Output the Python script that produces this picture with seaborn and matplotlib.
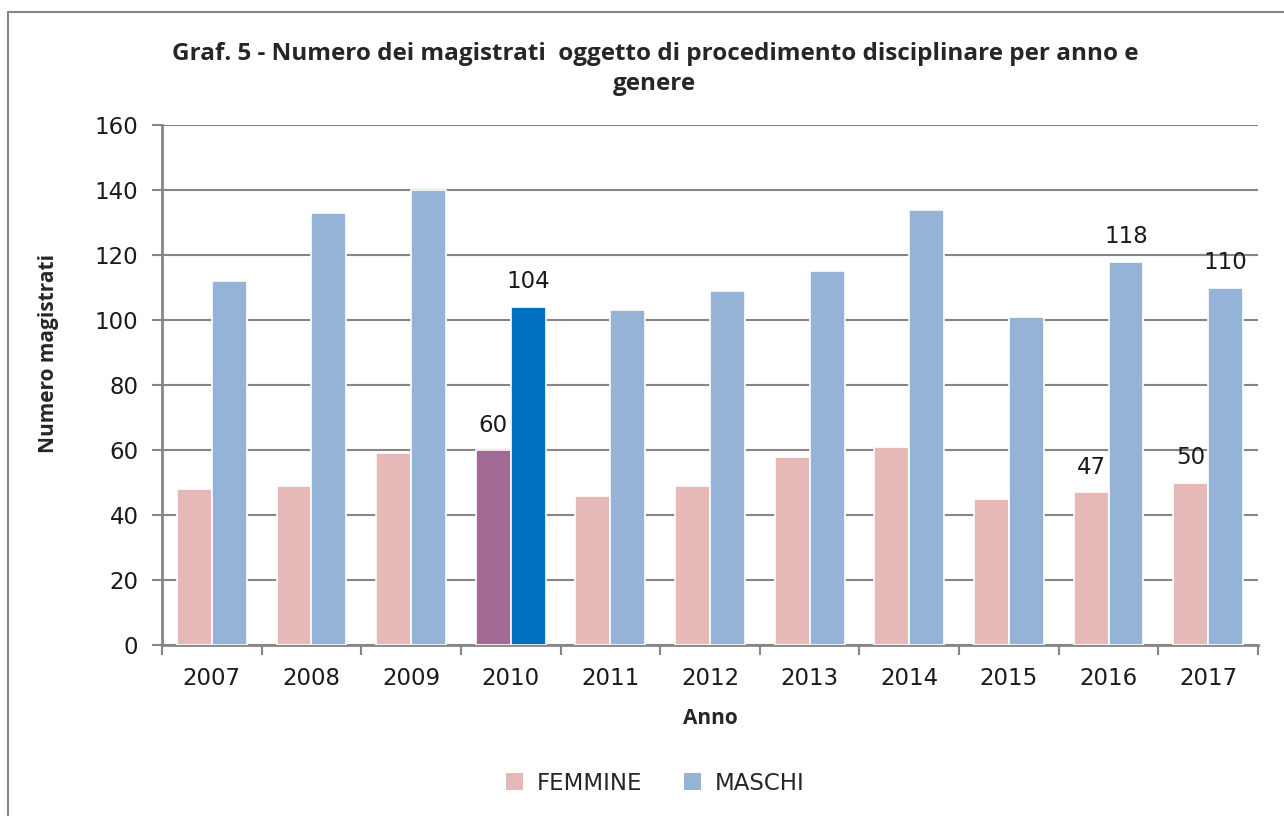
import pandas as pd
import seaborn as sns
import matplotlib.pyplot as plt
from matplotlib.lines import Line2D
from matplotlib.patches import Patch

# Data
anni = ['2007', '2008', '2009', '2010', '2011', '2012', '2013', '2014', '2015', '2016', '2017']
femmine = [48, 49, 59, 60, 46, 49, 58, 61, 45, 47, 50]
maschi = [112, 133, 140, 104, 103, 109, 115, 134, 101, 118, 110]
generi = ['FEMMINE', 'MASCHI']
anni_etichette = ['2010', '2016', '2017']
anno_evidenziato = '2010'

df = pd.DataFrame({'anno': anni * 2,
                   'genere': ['FEMMINE'] * len(anni) + ['MASCHI'] * len(anni),
                   'valore': femmine + maschi})

sns.set_style('white')
plt.rcParams['font.family'] = ['DejaVu Sans']

grigio = '#868686'
colori = {'FEMMINE': '#E6B9B8', 'MASCHI': '#95B3D7'}
colori_evid = {'FEMMINE': '#A06A95', 'MASCHI': '#0070C0'}

fig = plt.figure(figsize=(12.84, 8.16), dpi=100)
ax = fig.add_axes([162 / 1284, 1 - 645 / 816, (1258 - 162) / 1284, (645 - 125) / 816])

sns.barplot(data=df, x='anno', y='valore', hue='genere', hue_order=generi,
            palette=colori, saturation=1, width=0.7, edgecolor='white', linewidth=1.2,
            legend=False, ax=ax, zorder=3)

# highlight 2010 and put the labels
i_ev = anni.index(anno_evidenziato)
for cont, g in zip(ax.containers, generi):
    cont[i_ev].set_facecolor(colori_evid[g])
    for a in anni_etichette:
        p = cont[anni.index(a)]
        ax.annotate(f'{p.get_height():.0f}', (p.get_x() + p.get_width() / 2, p.get_height()),
                    xytext=(0, 25), textcoords='offset pixels', ha='center', va='center',
                    fontsize=16.5, color='#1a1a1a', zorder=4)

ax.set_xlim(-0.5, len(anni) - 0.5)
ax.set_ylim(0, 160)
ax.set_yticks(range(0, 161, 20))
ax.yaxis.grid(True, color=grigio, linewidth=1.5, zorder=0)
ax.set_axisbelow(True)

# x ticks at category boundaries, labels at centers
ax.set_xticks([i - 0.5 for i in range(len(anni) + 1)], minor=False)
ax.set_xticklabels([])
ax.set_xticks(range(len(anni)), minor=True)
ax.set_xticklabels(anni, minor=True)
ax.tick_params(axis='x', which='major', direction='out', length=7, width=1.5, color=grigio)
ax.tick_params(axis='x', which='minor', length=0, pad=16, labelsize=16.5, labelcolor='#1a1a1a')
ax.tick_params(axis='y', direction='out', length=7, width=1.5, color=grigio, pad=10,
               labelsize=16.5, labelcolor='#1a1a1a')
ax.yaxis.set_ticks_position('left')
ax.xaxis.set_ticks_position('bottom')

for s in ['top', 'right']:
    ax.spines[s].set_visible(False)
for s in ['left', 'bottom']:
    ax.spines[s].set_color(grigio)
    ax.spines[s].set_linewidth(2)

ax.set_xlabel('Anno', fontsize=15, fontweight='bold', family='Open Sans', labelpad=13)
ax.set_ylabel('Numero magistrati', fontsize=15, fontweight='bold', family='Open Sans')
ax.yaxis.set_label_coords(-0.094, 0.56)

fig.text(0.51, 1 - 69 / 816, 'Graf. 5 - Numero dei magistrati  oggetto di procedimento disciplinare per anno e\ngenere',
         ha='center', va='center', fontsize=17.5, fontweight='bold', family='Open Sans',
         linespacing=1.3)

handles = [Patch(facecolor=colori[g], edgecolor='none') for g in generi]
fig.legend(handles, generi, loc='center', bbox_to_anchor=(655 / 1284, 1 - 783 / 816), ncol=2,
           frameon=False, fontsize=16.5, handlelength=0.75, handleheight=0.75,
           columnspacing=1.8, handletextpad=0.6)

# outer border of the chart area
fig.add_artist(Line2D([8 / 1284, 8 / 1284], [0, 1 - 12 / 816], color=grigio, linewidth=1.5))
fig.add_artist(Line2D([8 / 1284, 1], [1 - 12 / 816, 1 - 12 / 816], color=grigio, linewidth=1.5))

fig.savefig('out.png', dpi=100)
